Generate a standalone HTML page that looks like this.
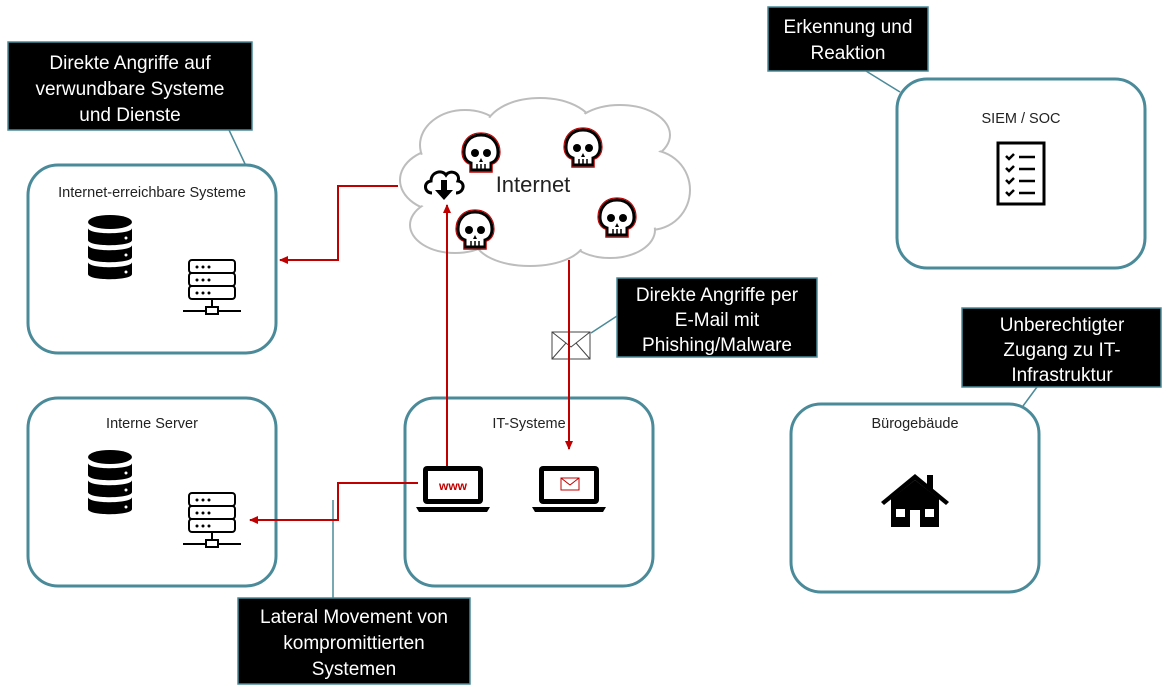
<!DOCTYPE html>
<html><head><meta charset="utf-8"><style>
html,body{margin:0;padding:0;background:#fff;width:1170px;height:692px;overflow:hidden}
svg{display:block;font-family:"Liberation Sans",sans-serif}
</style></head><body>
<svg width="1170" height="692" viewBox="0 0 1170 692" xmlns="http://www.w3.org/2000/svg">
<defs>
<marker id="ar" markerWidth="10" markerHeight="10" refX="8" refY="5" orient="auto" markerUnits="userSpaceOnUse"><path d="M0,1 L9,5 L0,9 Z" fill="#c00000"/></marker>
<g id="skull">
<path d="M0,-17 C-12,-17 -17,-8 -17,0 C-17,7 -13,10 -10,11 L-10,18 L10,18 L10,11 C13,10 17,7 17,0 C17,-8 12,-17 0,-17 Z" fill="#fff" stroke="#000" stroke-width="3"/>
<path d="M0,-17 C-12,-17 -17,-8 -17,0 C-17,7 -13,10 -10,11 L-10,18 L10,18 L10,11 C13,10 17,7 17,0 C17,-8 12,-17 0,-17 Z" fill="none" stroke="#c00000" stroke-width="1" transform="scale(1.12)"/>
<circle cx="-6" cy="1" r="4" fill="#000"/><circle cx="6" cy="1" r="4" fill="#000"/>
<path d="M0,6 l-2,4 h4 z" fill="#000"/>
<path d="M-4,12 v6 M0,12 v6 M4,12 v6" stroke="#000" stroke-width="1.5"/>
</g>
<g id="db">
<ellipse cx="0" cy="-26" rx="22" ry="7" fill="#000"/>
<path d="M-22,-20 C-22,-13 22,-13 22,-20 L22,-8 C22,-1 -22,-1 -22,-8 Z" fill="#000"/>
<path d="M-22,-3 C-22,4 22,4 22,-3 L22,9 C22,16 -22,16 -22,9 Z" fill="#000"/>
<path d="M-22,14 C-22,21 22,21 22,14 L22,26 C22,33 -22,33 -22,26 Z" fill="#000"/>
<circle cx="16" cy="-10" r="1.5" fill="#fff"/><circle cx="16" cy="7" r="1.5" fill="#fff"/><circle cx="16" cy="24" r="1.5" fill="#fff"/>
</g>
<g id="srv" fill="#fff" stroke="#000" stroke-width="2">
<rect x="-23" y="-27" width="46" height="13" rx="3"/>
<rect x="-23" y="-14" width="46" height="13" rx="3"/>
<rect x="-23" y="-1" width="46" height="13" rx="3"/>
<path d="M0,12 v8 M-29,24 h58"/>
<rect x="-6" y="20" width="12" height="7"/>
<g fill="#000" stroke="none"><circle cx="-15" cy="-20" r="1.5"/><circle cx="-9" cy="-20" r="1.5"/><circle cx="-3" cy="-20" r="1.5"/><circle cx="-15" cy="-7" r="1.5"/><circle cx="-9" cy="-7" r="1.5"/><circle cx="-3" cy="-7" r="1.5"/><circle cx="-15" cy="6" r="1.5"/><circle cx="-9" cy="6" r="1.5"/><circle cx="-3" cy="6" r="1.5"/></g>
</g>
<g id="laptop">
<rect x="-30" y="-22" width="60" height="38" rx="4" fill="#000"/>
<rect x="-25" y="-17" width="50" height="28" fill="#fff"/>
<path d="M-37,19 h74 l-3,5 h-68 z" fill="#000"/>
</g>
</defs>

<g stroke="#4a8a99" stroke-width="1.5" fill="none">
<line x1="229" y1="130" x2="246" y2="166"/>
<line x1="866" y1="71" x2="900" y2="92"/>
<line x1="591" y1="333" x2="617" y2="316"/>
<line x1="1037" y1="387" x2="1023" y2="406"/>
<line x1="333" y1="598" x2="333" y2="500"/>
</g>

<g fill="#fff" stroke="#4a8a99" stroke-width="3">
<rect x="28" y="165" width="248" height="188" rx="30"/>
<rect x="28" y="398" width="248" height="188" rx="30"/>
<rect x="405" y="398" width="248" height="188" rx="30"/>
<rect x="791" y="404" width="248" height="188" rx="30"/>
<rect x="897" y="79" width="248" height="189" rx="30"/>
</g>
<g font-size="14.5" fill="#222" text-anchor="middle">
<text x="152" y="197">Internet-erreichbare Systeme</text>
<text x="152" y="428">Interne Server</text>
<text x="529" y="428">IT-Systeme</text>
<text x="915" y="428">Bürogebäude</text>
<text x="1021" y="123">SIEM / SOC</text>
</g>

<g fill="#fff" stroke="#bdbdbd" stroke-width="2">
<ellipse cx="445" cy="180" rx="45" ry="32"/>
<ellipse cx="465" cy="145" rx="45" ry="35"/>
<ellipse cx="540" cy="130" rx="55" ry="32"/>
<ellipse cx="620" cy="135" rx="50" ry="30"/>
<ellipse cx="650" cy="190" rx="40" ry="40"/>
<ellipse cx="610" cy="230" rx="45" ry="28"/>
<ellipse cx="530" cy="240" rx="55" ry="26"/>
<ellipse cx="455" cy="225" rx="45" ry="28"/>
</g>
<g fill="#fff" stroke="none">
<ellipse cx="445" cy="180" rx="43" ry="30"/>
<ellipse cx="465" cy="145" rx="43" ry="33"/>
<ellipse cx="540" cy="130" rx="53" ry="30"/>
<ellipse cx="620" cy="135" rx="48" ry="28"/>
<ellipse cx="650" cy="190" rx="38" ry="38"/>
<ellipse cx="610" cy="230" rx="43" ry="26"/>
<ellipse cx="530" cy="240" rx="53" ry="24"/>
<ellipse cx="455" cy="225" rx="43" ry="26"/>
<rect x="440" y="140" width="200" height="100"/>
</g>
<text x="533" y="192" font-size="22" fill="#222" text-anchor="middle">Internet</text>
<use href="#skull" x="481" y="152"/>
<use href="#skull" x="583" y="147"/>
<use href="#skull" x="617" y="217"/>
<use href="#skull" x="475" y="229"/>
<path d="M432,193 C424,193 423,182 431,181 C431,172 442,169 446,175 C450,169 461,173 458,181 C466,182 464,193 456,193" fill="none" stroke="#000" stroke-width="3"/>
<path d="M441,180 h6 v10 h6 l-9,10 l-9,-10 h6 z" fill="#000"/>

<g stroke="#c00000" stroke-width="2" fill="none">
<polyline points="398,186 338,186 338,260 280,260" marker-end="url(#ar)"/>
<line x1="447" y1="472" x2="447" y2="205" marker-end="url(#ar)"/>
<line x1="569" y1="260" x2="569" y2="449" marker-end="url(#ar)"/>
<polyline points="418,483 338,483 338,520 250,520" marker-end="url(#ar)"/>
</g>

<g fill="#fff" stroke="#444" stroke-width="1">
<rect x="552" y="332" width="38" height="27"/>
<path d="M552,332 L571,347 L590,332 M552,359 L566,343 M590,359 L576,343" fill="none"/>
</g>
<line x1="569" y1="300" x2="569" y2="365" stroke="#c00000" stroke-width="2"/>

<use href="#db" x="110" y="248"/>
<use href="#srv" x="212" y="287"/>
<use href="#db" x="110" y="483"/>
<use href="#srv" x="212" y="520"/>
<use href="#laptop" x="453" y="488"/>
<text x="453" y="490" font-size="12" fill="#c00000" text-anchor="middle" font-weight="bold">www</text>
<use href="#laptop" x="569" y="488"/>
<g fill="#fff" stroke="#c00000" stroke-width="1"><rect x="561" y="478" width="18" height="12"/><path d="M561,478 L570,485 L579,478" fill="none"/></g>

<rect x="998" y="143" width="46" height="61" fill="#fff" stroke="#000" stroke-width="3"/>
<g stroke="#000" stroke-width="2.5" fill="none">
<path d="M1006,156 l3,3 l5,-5 M1006,168 l3,3 l5,-5 M1006,180 l3,3 l5,-5 M1006,192 l3,3 l5,-5"/>
<path d="M1019,157 h16 M1019,169 h16 M1019,181 h16 M1019,193 h16"/>
</g>

<g fill="#000">
<path d="M881,502 L915,474 L949,502 L946,505 L915,480 L884,505 Z"/>
<rect x="927" y="475" width="6" height="14"/>
<path d="M891,499 L915,480 L939,499 L939,527 L920,527 L920,510 L910,510 L910,527 L891,527 Z"/>
</g>
<rect x="896" y="509" width="9" height="8" fill="#fff"/>
<rect x="925" y="509" width="9" height="8" fill="#fff"/>

<g fill="#000" stroke="#4a8a99" stroke-width="1.5">
<rect x="8" y="42" width="244" height="88"/>
<rect x="768" y="7" width="160" height="64"/>
<rect x="617" y="278" width="200" height="79"/>
<rect x="962" y="308" width="199" height="79"/>
<rect x="238" y="598" width="232" height="86"/>
</g>
<g fill="#fff" font-size="19" text-anchor="middle">
<text x="130" y="69">Direkte Angriffe auf</text>
<text x="130" y="95">verwundbare Systeme</text>
<text x="130" y="121">und Dienste</text>
<text x="848" y="33">Erkennung und</text>
<text x="848" y="59">Reaktion</text>
<text x="717" y="301">Direkte Angriffe per</text>
<text x="717" y="326">E-Mail mit</text>
<text x="717" y="351">Phishing/Malware</text>
<text x="1062" y="331">Unberechtigter</text>
<text x="1062" y="356">Zugang zu IT-</text>
<text x="1062" y="381">Infrastruktur</text>
<text x="354" y="623">Lateral Movement von</text>
<text x="354" y="649">kompromittierten</text>
<text x="354" y="675">Systemen</text>
</g>
</svg>
</body></html>
